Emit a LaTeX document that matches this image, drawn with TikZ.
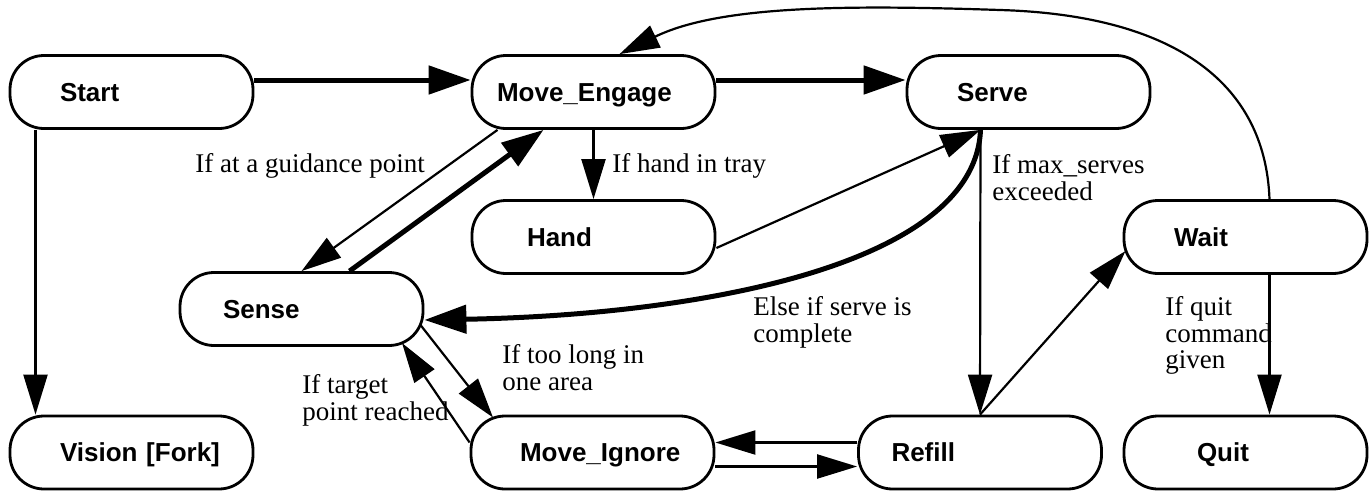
\documentclass[tikz,border=0pt]{standalone}
\usepackage{fontspec}
\setmainfont{Liberation Serif}
\setsansfont{Liberation Sans}
\usetikzlibrary{arrows.meta}

\begin{document}
\begin{tikzpicture}[x=0.5pt, y=-0.5pt,
                    pad/.store in=\statepad,
                    statenode/.style={rectangle, draw=black, line width=1.4pt, rounded corners=17pt,
                                      minimum height=36.5pt, text width=121.5pt, inner xsep=0pt, align=left,
                                      text height=9.3pt, text depth=0pt,
                                      font=\fontsize{13}{15}\selectfont\sffamily\bfseries,
                                      pad=25pt, execute at begin node={\hspace*{\statepad}}},
                    condnode/.style={inner sep=0pt, anchor=north west, align=left,
                                     font=\fontsize{13.5}{13.25}\selectfont},
                    arr/.style={line width=1.1pt, -{Triangle[length=20pt,width=12pt]}},
                    thickarr/.style={line width=2.5pt, -{Triangle[length=21pt,width=14pt]}}]
    \useasboundingbox (0,0) rectangle (1371,493);
    % states
    \node[statenode] (start) at (131.5,92) {Start};
    \node[statenode, pad=12.5pt] (engage) at (593.5,92) {Move\_Engage};
    \node[statenode] (serve) at (1028.5,92) {Serve};
    \node[statenode, pad=27.5pt] (hand) at (593.5,237) {Hand};
    \node[statenode, pad=21.5pt] (sense) at (301.5,309) {Sense};
    \node[statenode] (wait) at (1245.5,237) {Wait};
    \node[statenode] (vision) at (131.5,452.5) {Vision [Fork]};
    \node[statenode, pad=24.5pt] (ignore) at (592.5,452.5) {Move\_Ignore};
    \node[statenode, pad=16.5pt] (refill) at (980,452.5) {Refill};
    \node[statenode, pad=36.5pt] (quit) at (1245.5,452.5) {Quit};
    \coordinate (looptop) at (1000,10);
    % transitions
    \draw[thickarr] ([yshift=6pt]start.east) -- ([yshift=6pt]engage.west);
    \draw[thickarr] ([yshift=6pt]engage.east) -- ([yshift=6pt]serve.west);
    \draw[arr] ([xshift=-48pt]start.south) -- ([xshift=-48pt]vision.north);
    \draw[arr] (engage.south) -- (hand.north);
    \draw[arr] ([xshift=-48pt]engage.south) -- (sense.north);
    \draw[thickarr] ([xshift=24pt]sense.north) -- ([xshift=-25pt]engage.south);
    \draw[arr] ([yshift=-5.5pt]hand.east) -- ([xshift=-24pt]serve.south);
    \draw[thickarr] ([xshift=-24pt]serve.south) .. controls (975,265) and (700,315) .. ([yshift=-5.5pt]sense.east);
    \draw[arr] ([xshift=-24pt]serve.south) -- (refill.north);
    \draw[arr] (refill.north) -- ([shift={(-60pt,-7pt)}]wait.center);
    \draw[arr] ([xshift=12pt]wait.south) -- ([xshift=12pt]quit.north);
    \draw[arr] ([xshift=12pt]wait.north) .. controls (1265,80) and (1170,15) .. (looptop)
               .. controls (850,5) and (720,5) .. ([xshift=13pt]engage.north);
    \draw[arr] ([shift={(59.5pt,-8pt)}]sense.center) -- ([shift={(-49.75pt,17.5pt)}]ignore.center);
    \draw[arr] ([yshift=5pt]ignore.west) -- ([shift={(50.25pt,-17pt)}]sense.center);
    \draw[arr] ([yshift=5pt]refill.west) -- ([yshift=5pt]ignore.east);
    \draw[arr] ([yshift=-7pt]ignore.east) -- ([yshift=-7pt]refill.west);
    % conditions
    \node[condnode] (guidecond) at (195,153.5) {If at a guidance point};
    \node[condnode] (handcond) at (612,153.5) {If hand in tray};
    \node[condnode] (maxcond) at (992,154.5) {If max\_serves\\exceeded};
    \node[condnode] (elsecond) at (753,296.5) {Else if serve is\\complete};
    \node[condnode] (longcond) at (502,344.5) {If too long in\\one area};
    \node[condnode] (targetcond) at (302,374.5) {If target\\point reached};
    \node[condnode] (quitcond) at (1165,296.5) {If quit\\command\\given};
\end{tikzpicture}
\end{document}
